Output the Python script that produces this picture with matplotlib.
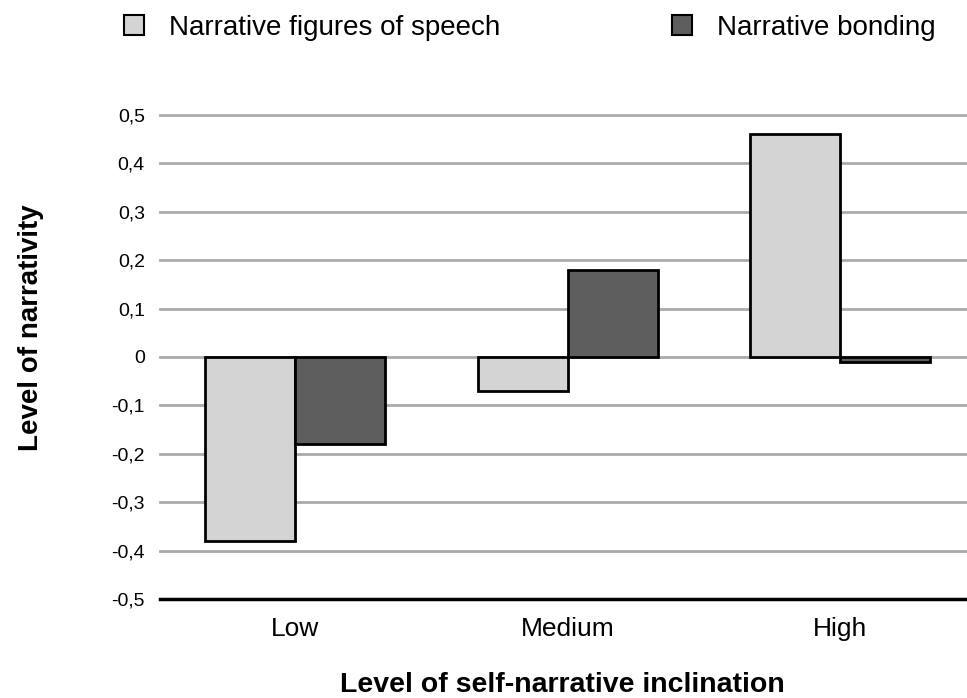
import numpy as np
import matplotlib.pyplot as plt
from matplotlib.patches import Patch

plt.rcParams['font.family'] = ['Liberation Sans', 'DejaVu Sans']

groups = ["Low", "Medium", "High"]
figures_of_speech = [-0.38, -0.07, 0.46]
bonding = [-0.18, 0.18, -0.01]
series_names = ["Narrative figures of speech", "Narrative bonding"]
yticks = [-0.5, -0.4, -0.3, -0.2, -0.1, 0, 0.1, 0.2, 0.3, 0.4, 0.5]
ytick_labels = ["-0,5", "-0,4", "-0,3", "-0,2", "-0,1", "0", "0,1", "0,2", "0,3", "0,4", "0,5"]

light = "#d4d4d4"
dark = "#5e5e5e"

fig = plt.figure(figsize=(9.67, 6.98), dpi=100)
ax = fig.add_axes([0.1655, 0.1418, 0.8345, 0.6935])

x = np.arange(len(groups))
w = 0.33
ax.bar(x - w / 2, figures_of_speech, w, color=light, edgecolor="black", linewidth=2, zorder=3)
ax.bar(x + w / 2, bonding, w, color=dark, edgecolor="black", linewidth=2, zorder=3)

ax.set_xlim(-0.495, 2.465)
ax.set_ylim(-0.5, 0.5)
ax.set_yticks(yticks)
ax.set_yticklabels(ytick_labels, fontsize=14)
ax.set_xticks(x)
ax.set_xticklabels(groups, fontsize=19)
ax.tick_params(axis="both", length=0)
ax.tick_params(axis="y", pad=11)
ax.tick_params(axis="x", pad=13)

for yv in yticks[1:]:
    ax.axhline(yv, color="#aaaaaa", linewidth=2, zorder=1, clip_on=False)

for s in ["top", "right", "left"]:
    ax.spines[s].set_visible(False)
ax.spines["bottom"].set_linewidth(2.5)
ax.spines["bottom"].set_zorder(4)

ax.set_ylabel("Level of narrativity", fontsize=20, fontweight="bold")
ax.set_xlabel("Level of self-narrative inclination", fontsize=20.5, fontweight="bold")
ax.yaxis.set_label_coords(-0.144, 0.56)
ax.xaxis.set_label_coords(0.498, -0.15)

handles = [Patch(facecolor=light, edgecolor="black", linewidth=1.5),
           Patch(facecolor=dark, edgecolor="black", linewidth=1.5)]
fig.legend(handles, series_names, loc="upper left", bbox_to_anchor=(0.102, 1.015),
           ncol=2, frameon=False, fontsize=20, handlelength=0.72, handleheight=0.72,
           handletextpad=0.9, columnspacing=6.2)

fig.savefig("out.png", dpi=100)
